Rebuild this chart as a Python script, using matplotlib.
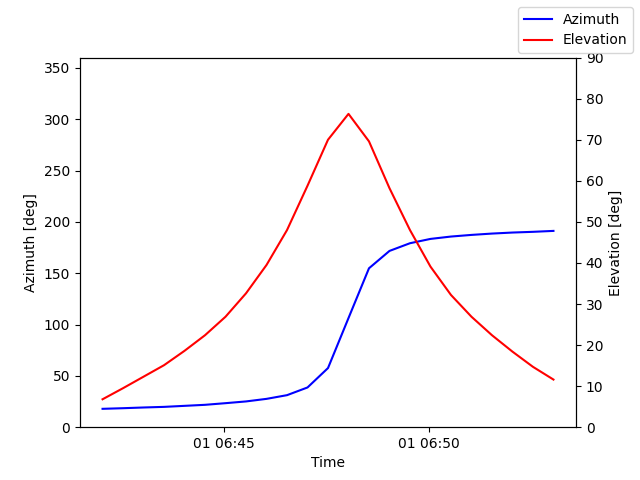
import numpy as np
import pandas as pd
import matplotlib
matplotlib.use("Agg")
import matplotlib.pyplot as plt

# pass samples, one every 30 s
times = pd.date_range("2024-01-01 06:42:02", periods=23, freq="30s")

azimuth = [17.9, 18.5, 19.2, 19.8, 20.8, 21.8, 23.4, 25.1, 27.6, 31.2,
           38.7, 57.6, 106.3, 154.8, 171.7, 179.2, 183.4, 185.7, 187.3,
           188.6, 189.6, 190.3, 191.2]
elevation = [6.8, 9.5, 12.3, 15.1, 18.6, 22.4, 26.9, 32.6, 39.5, 48.0,
             58.8, 70.0, 76.3, 69.6, 58.2, 48.0, 39.1, 32.2, 26.9,
             22.4, 18.4, 14.7, 11.6]

fig, ax1 = plt.subplots(figsize=(6.4, 4.8), dpi=100)
ax2 = ax1.twinx()

ax1.plot(times.to_pydatetime(), azimuth, color='blue', label='Azimuth')
ax2.plot(times.to_pydatetime(), elevation, color='red', label='Elevation')

ax1.set_ylim(0, 360)
ax2.set_ylim(0, 90)
ax1.set_xlabel('Time')
ax1.set_ylabel('Azimuth [deg]')
ax2.set_ylabel('Elevation [deg]')

fig.legend()
fig.savefig('out.png')
